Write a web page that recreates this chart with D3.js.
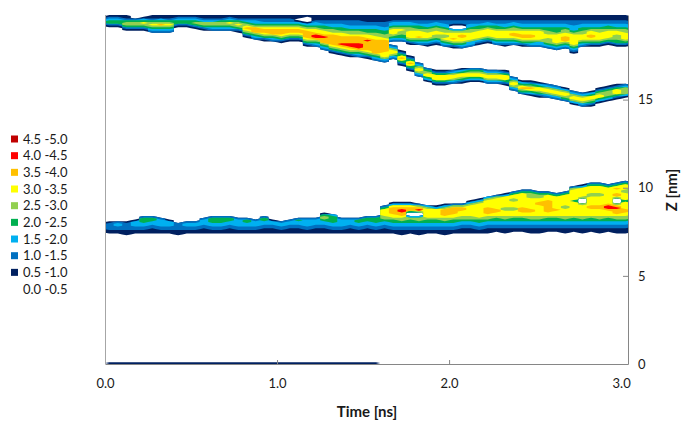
<!DOCTYPE html>
<html>
<head>
<meta charset="utf-8">
<script src="https://cdn.jsdelivr.net/npm/d3@7"></script>
<style>
  body { margin: 0; background: #fff; }
  text { font-family: Lato, "Open Sans", sans-serif; fill: #1a1a1a; }
</style>
</head>
<body>
<svg id="chart" width="683" height="421"></svg>
<script>
// ---- density map sampled every 0.05 ns (one value per time column) ----
const timeStep = 0.05;   // ns per column
const zStep = 0.1;       // nm per row
const zTop = 19.8;       // top of the box, nm

// upper slab: lower edge (nm) and peak density per column
const upperEdge = [19.1, 19.1, 18.9, 18.9, 18.9, 18.75, 18.75, 18.75, 19.1, 19.1,
  19.0, 18.9, 18.85, 18.85, 18.85, 18.8, 18.5, 18.35, 18.3, 18.25,
  18.2, 18.3, 18.3, 18.0, 17.95, 17.75, 17.6, 17.5, 17.4, 17.35,
  17.3, 17.15, 17.2, 18.25, 18.25, 18.1, 18.05, 18.0, 18.1, 17.95,
  17.9, 17.85, 17.95, 18.05, 18.2, 18.05, 18.0, 18.05, 18.0, 17.95,
  17.95, 17.85, 17.75, 17.85, 17.65, 17.95, 18.0, 18.0, 18.1, 18.0,
  18.0];
const upperPeak = [2.6, 2.7, 3.1, 3.3, 3.4, 3.7, 3.8, 3.6, 2.5, 2.4,
  2.8, 2.9, 3.1, 3.3, 3.6, 3.4, 3.7, 3.8, 3.7, 3.6,
  3.7, 3.5, 3.6, 3.7, 3.8, 3.8, 3.9, 3.9, 3.8, 3.9,
  3.8, 3.7, 3.5, 3.2, 3.1, 3.3, 3.2, 3.1, 3.3, 3.2,
  3.2, 3.3, 3.1, 3.2, 3.3, 3.3, 3.2, 3.4, 3.2, 3.3,
  3.3, 3.1, 3.3, 3.4, 3.3, 3.1, 3.2, 3.1, 3.0, 3.2,
  3.1];

// descending branch that splits off the upper slab (centre, nm)
const branchCenter = [null, null, null, null, null, null, null, null, null, null,
  null, null, null, null, null, null, null, null, null, null,
  null, null, null, null, null, null, null, null, null, null,
  null, null, 17.5, 17.7, 17.35, 17.05, 16.7, 16.42, 16.25, 16.25,
  16.3, 16.36, 16.42, 16.42, 16.3, 16.3, 16.25, 15.9, 15.68, 15.63,
  15.57, 15.5, 15.4, 15.28, 15.11, 15.0, 15.06, 15.23, 15.34, 15.45,
  15.51];
const branchPeak = [null, null, null, null, null, null, null, null, null, null,
  null, null, null, null, null, null, null, null, null, null,
  null, null, null, null, null, null, null, null, null, null,
  null, null, 3.5, 3.5, 3.4, 3.4, 3.3, 3.2, 3.3, 3.2,
  3.3, 3.2, 3.3, 3.4, 3.4, 3.3, 3.2, 3.1, 3.3, 3.4,
  3.3, 3.1, 3.0, 3.1, 3.0, 3.1, 3.2, 3.0, 2.9, 3.0,
  2.9];
const branchHalf = 0.42;

// lower slab: base, top edge and peak density per column
const lowerBase = [7.35, 7.35, 7.3, 7.35, 7.35, 7.4, 7.35, 7.35, 7.3, 7.35,
  7.35, 7.4, 7.35, 7.35, 7.4, 7.35, 7.35, 7.35, 7.4, 7.4,
  7.35, 7.4, 7.4, 7.35, 7.4, 7.4, 7.35, 7.35, 7.4, 7.35,
  7.4, 7.35, 7.4, 7.35, 7.3, 7.35, 7.3, 7.35, 7.35, 7.3,
  7.35, 7.4, 7.4, 7.35, 7.4, 7.45, 7.4, 7.45, 7.45, 7.4,
  7.4, 7.45, 7.45, 7.4, 7.45, 7.4, 7.45, 7.4, 7.45, 7.4,
  7.4];
const lowerTop = [8.1, 8.15, 8.1, 8.2, 8.4, 8.45, 8.35, 8.2, 8.05, 8.15,
  8.15, 8.3, 8.4, 8.45, 8.4, 8.3, 8.35, 8.25, 8.4, 8.2,
  8.15, 8.25, 8.35, 8.3, 8.3, 8.6, 8.55, 8.35, 8.3, 8.3,
  8.45, 8.4, 9.0, 9.2, 9.2, 9.2, 9.15, 9.05, 9.0, 9.1,
  9.15, 9.15, 9.3, 9.4, 9.55, 9.65, 9.7, 9.85, 9.9, 9.9,
  9.85, 9.8, 9.75, 9.8, 10.15, 10.2, 10.3, 10.3, 10.25, 10.35,
  10.4];
const lowerPeak = [1.45, 1.6, 1.45, 1.5, 2.3, 2.3, 1.9, 1.5, 1.45, 1.6,
  1.5, 1.9, 2.2, 2.3, 2.1, 1.7, 2.0, 1.6, 2.1, 1.5,
  1.5, 1.7, 2.1, 1.9, 1.8, 2.6, 2.4, 1.9, 1.8, 2.0,
  2.4, 2.3, 3.4, 3.6, 3.7, 3.6, 3.5, 3.3, 3.2, 3.4,
  3.4, 3.3, 3.2, 3.4, 3.4, 3.3, 3.2, 3.3, 3.4, 3.3,
  3.2, 3.4, 3.3, 3.2, 3.3, 3.4, 3.3, 3.2, 3.4, 3.5,
  3.3];

// thin layer at the box floor, present until this time (ns)
const floorEnd = 1.6;
const floorDepth = 0.1;
const floorDensity = 0.75;

// local hot spots (+) and voids (-): time (ns), z (nm), density change
const spotTime  = [0.30, 0.70, 0.98, 1.36, 1.44, 1.52, 1.25, 2.47, 2.67, 2.82, 2.90, 2.10,
                   1.80, 2.00, 2.22, 2.40,
                   1.95, 2.35, 2.75, 1.72, 1.88, 2.15, 2.55, 2.62, 2.98,
                   0.19, 1.16, 2.05,
                   2.26, 2.45, 1.75,
                   1.73, 1.83, 2.94, 2.05, 2.55, 2.25, 2.00, 2.45, 2.60, 2.85, 3.00,
                   2.40, 2.65, 1.95, 2.15, 2.35, 2.50, 2.85, 3.02,
                   1.80, 2.77, 2.98];
const spotZ     = [19.0, 19.0, 18.5, 18.0, 18.05, 18.5, 18.6, 18.7, 18.4, 18.6, 18.2, 18.6,
                   18.5, 18.4, 18.5, 18.6,
                   18.6, 18.4, 18.9, 18.7, 18.3, 18.3, 18.3, 18.8, 18.5,
                   19.75, 19.5, 19.1,
                   16.3, 15.7, 17.2,
                   8.6, 8.75, 8.9, 8.8, 9.1, 8.7, 8.6, 8.7, 8.8, 8.9, 8.7,
                   9.3, 8.9, 9.0, 9.2, 8.8, 9.5, 9.6, 9.8,
                   8.5, 9.25, 9.25];
const spotDelta = [0.5, 0.4, 0.6, 0.6, 0.6, 0.5, 0.4, 0.6, 0.6, 0.5, 0.5, 0.4,
                   0.5, 0.5, 0.5, 0.5,
                   -0.5, -0.4, -0.4, -0.5, -0.5, -0.5, -0.5, -0.5, -0.5,
                   -1.2, -2.0, -2.5,
                   0.5, 0.5, 0.4,
                   0.9, 0.9, 0.9, 0.5, 0.5, 0.4, 0.5, 0.5, 0.5, 0.5, 0.5,
                   -0.5, -0.5, -0.5, -0.5, -0.5, -0.5, -0.5, -0.5,
                   -5, -5, -4.5];

// contour classes
const thresholds = [0.5, 1.0, 1.5, 2.0, 2.5, 3.0, 3.5, 4.0, 4.5];
const levelColors = ["#002060", "#0070c0", "#00b0f0", "#00b050", "#92d050",
                     "#ffff00", "#ffc000", "#ff0000", "#c00000"];
const legendLabels = ["4.5 -5.0", "4.0 -4.5", "3.5 -4.0", "3.0 -3.5", "2.5 -3.0",
                      "2.0 -2.5", "1.5 -2.0", "1.0 -1.5", "0.5 -1.0", "0.0 -0.5"];
const timeTicks = [0, 1, 2, 3];
const zTicks = [0, 5, 10, 15];

// ---- density grid ----
const nCols = upperEdge.length;
const nRows = Math.round(zTop / zStep);
const grid = new Float64Array(nCols * nRows);

for (let r = 0; r < nRows; r++) {
  const zc = zTop - (r + 0.5) * zStep;
  for (let i = 0; i < nCols; i++) {
    const tc = (i + 0.5) * timeStep;
    let boost = 0, dip = 0;
    for (let s = 0; s < spotTime.length; s++) {
      const w = 1 - ((tc - spotTime[s]) / 0.05) ** 2 - ((zc - spotZ[s]) / 0.22) ** 2;
      if (w > 0) {
        if (spotDelta[s] > 0) boost += spotDelta[s] * w;
        else dip += spotDelta[s] * w;
      }
    }
    let v = 0;
    // upper slab: gradual rise from the top, sharp lower edge
    const zb = upperEdge[i];
    if (zc > zb) {
      const P = upperPeak[i], W = zTop - zb, d = zTop - zc;
      const rise = 0.5 + (P - 0.5) * Math.pow(d / (0.55 * W), 1.4);
      const fall = 0.5 + 6 * (zc - zb);
      v = Math.max(v, Math.min(rise, fall, P + boost));
    }
    // branch
    if (branchCenter[i] != null) {
      const side = 0.5 + 8 * (branchHalf - Math.abs(zc - branchCenter[i]));
      if (side > 0) v = Math.max(v, Math.min(side, branchPeak[i] + boost));
    }
    // lower slab: gradual rise from the base, sharp top edge
    const zl = lowerBase[i], zt = lowerTop[i];
    if (zc > zl && zc < zt) {
      const h = zc - zl;
      const rise = 0.5 + 2.6 * Math.pow(h, 1.3);
      const fall = 0.5 + 10 * (zt - zc);
      v = Math.max(v, Math.min(rise, fall, lowerPeak[i] + boost));
    }
    // floor layer
    if (tc < floorEnd && zc < floorDepth) v = Math.max(v, floorDensity);
    grid[r * nCols + i] = v + dip;
  }
}

// ---- chart ----
const svg = d3.select("#chart");
const x = d3.scaleLinear().domain([0, 3.04]).range([105, 628]);
const y = d3.scaleLinear().domain([0, zTop]).range([364, 15]);

svg.append("defs").append("clipPath").attr("id", "plot-clip")
  .append("rect").attr("x", 105).attr("y", 15).attr("width", 523).attr("height", 349);

const contours = d3.contours()
  .size([nCols, nRows])
  .smooth(false)
  .thresholds(thresholds)(grid);

const toScreen = d3.geoTransform({
  point(px, py) { this.stream.point(x(px * timeStep), y(zTop - py * zStep)); }
});
const path = d3.geoPath(toScreen);

svg.append("g").attr("clip-path", "url(#plot-clip)")
  .selectAll("path")
  .data(contours)
  .join("path")
  .attr("d", path)
  .attr("fill", d => levelColors[thresholds.indexOf(d.value)])
  .attr("stroke", "none");

// left edge line
svg.append("line")
  .attr("x1", 105.5).attr("x2", 105.5).attr("y1", 15).attr("y2", 364)
  .attr("stroke", "#a6a6a6").attr("stroke-width", 1);

// bottom axis
const xAxis = svg.append("g").attr("transform", "translate(0,364)")
  .call(d3.axisBottom(x).tickValues(timeTicks).tickFormat(d3.format(".1f"))
    .tickSizeInner(-4).tickSizeOuter(0).tickPadding(15));
xAxis.select(".domain").attr("stroke", "#868686");
xAxis.selectAll(".tick line").attr("stroke", "#868686")
  .attr("display", d => (d === 0 || d === 3) ? "none" : null);
xAxis.selectAll(".tick text").attr("font-size", 13).attr("font-family", "Lato, sans-serif")
  .attr("fill", "#1a1a1a");

// right axis
const zAxis = svg.append("g").attr("transform", "translate(628,0)")
  .call(d3.axisRight(y).tickValues(zTicks).tickFormat(d3.format("d"))
    .tickSizeInner(-5).tickSizeOuter(0).tickPadding(10));
zAxis.select(".domain").attr("stroke", "#868686");
zAxis.selectAll(".tick line").attr("stroke", "#868686");
zAxis.selectAll(".tick text").attr("font-size", 13).attr("font-family", "Lato, sans-serif")
  .attr("fill", "#1a1a1a");

// axis titles
svg.append("text")
  .attr("x", 367).attr("y", 417)
  .attr("text-anchor", "middle")
  .attr("font-size", 15).attr("font-weight", "bold")
  .text("Time [ns]");
svg.append("text")
  .attr("transform", "translate(677,190) rotate(-90)")
  .attr("text-anchor", "middle")
  .attr("font-size", 15).attr("font-weight", "bold")
  .text("Z [nm]");

// legend, highest class first
const legendColors = levelColors.slice().reverse().concat([null]);
const legend = svg.append("g").selectAll("g")
  .data(legendLabels)
  .join("g")
  .attr("transform", (d, k) => `translate(11,${139 + k * 16.67})`);
legend.append("rect")
  .attr("x", 0).attr("y", -3.5).attr("width", 7).attr("height", 7)
  .attr("fill", (d, k) => legendColors[k] || "none");
legend.append("text")
  .attr("x", 12).attr("dy", "0.35em")
  .attr("font-size", 13)
  .text(d => d);
</script>
</body>
</html>
